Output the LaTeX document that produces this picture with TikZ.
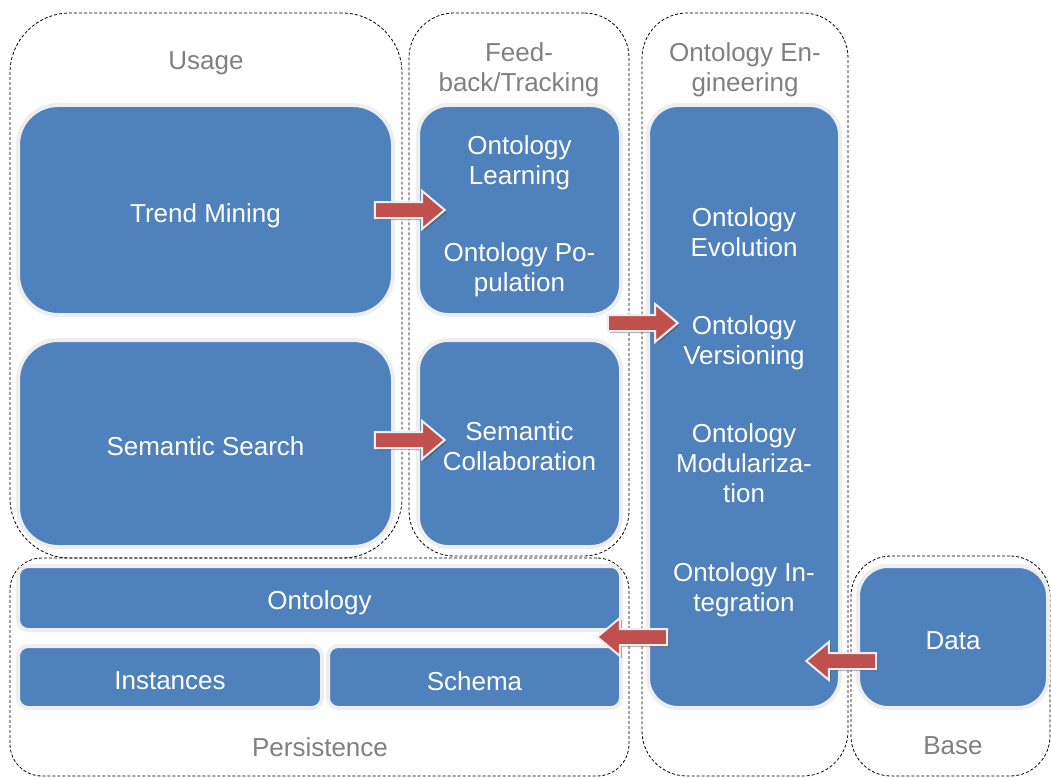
\documentclass[tikz,border=0pt]{standalone}
\usepackage{fontspec}
\setmainfont{Liberation Sans}
\usetikzlibrary{shapes.arrows,shadows}
\definecolor{boxblue}{HTML}{4F81BD}
\definecolor{boxrim}{HTML}{EEEEEE}
\definecolor{arrred}{HTML}{C0504D}
\definecolor{labgray}{HTML}{808080}
\tikzset{
  container/.style={draw=black, line width=0.8pt, dash pattern=on 3pt off 2pt, inner sep=0pt},
  bluebox/.style={fill=boxblue, draw=boxrim, line width=4pt, inner sep=0pt},
  wtext/.style={text=white, align=center, font=\fontsize{26}{30}\selectfont},
  gtext/.style={text=labgray, align=center, font=\fontsize{26}{30}\selectfont},
  blockarrow/.style={single arrow, fill=arrred, draw=boxrim, line width=2pt, inner sep=7pt,
    minimum height=70pt, single arrow head extend=11pt, single arrow tip angle=80,
    drop shadow={shadow xshift=2pt, shadow yshift=-2pt, opacity=0.45, fill=black!70}},
}
\begin{document}
\begin{tikzpicture}[x=1pt,y=-1pt]
\useasboundingbox (0,0) rectangle (1051,778);
% containers
\node[container, rounded corners=60pt, minimum width=392pt, minimum height=545pt] (usage) at (206,285.5) {};
\node[container, rounded corners=45pt, minimum width=220pt, minimum height=543pt] (feedback) at (519,284.5) {};
\node[container, rounded corners=45pt, minimum width=206pt, minimum height=763pt] (engineering) at (745,394.5) {};
\node[container, rounded corners=32pt, minimum width=619pt, minimum height=218pt] (persistence) at (319.5,667) {};
\node[container, rounded corners=40pt, minimum width=199pt, minimum height=220pt] (base) at (950.5,666) {};
% container labels
\node[gtext] (usagelab) at (206,63) {Usage};
\node[gtext] (feedbacklab) at (519,70) {Feed-\\back/Tracking};
\node[gtext] (englab) at (745,70) {Ontology En-\\gineering};
\node[gtext] (perslab) at (320,747) {Persistence};
\node[gtext] (baselab) at (953,746) {Base};
% blue boxes
\node[bluebox, rounded corners=40pt, minimum width=375pt, minimum height=210pt] (trend) at (205.5,210) {};
\node[bluebox, rounded corners=40pt, minimum width=375pt, minimum height=207pt] (search) at (205.5,443.5) {};
\node[bluebox, rounded corners=30pt, minimum width=203pt, minimum height=210pt] (learning) at (519.5,210) {};
\node[bluebox, rounded corners=30pt, minimum width=203pt, minimum height=207pt] (collab) at (519.5,443.5) {};
\node[bluebox, rounded corners=30pt, minimum width=192pt, minimum height=603pt] (engbox) at (744,406.5) {};
\node[bluebox, rounded corners=10pt, minimum width=603pt, minimum height=64pt] (ontology) at (319.5,598) {};
\node[bluebox, rounded corners=10pt, minimum width=304pt, minimum height=62pt] (instances) at (170,677) {};
\node[bluebox, rounded corners=10pt, minimum width=293pt, minimum height=62pt] (schema) at (474.5,677) {};
\node[bluebox, rounded corners=30pt, minimum width=190pt, minimum height=142pt] (data) at (953,637) {};
% box texts
\node[wtext] (trendtext) at (205.5,216) {Trend Mining};
\node[wtext] (searchtext) at (205.5,446.5) {Semantic Search};
\node[wtext] (learntext) at (519.5,163) {Ontology\\Learning};
\node[wtext] (poptext) at (519.5,270) {Ontology Po-\\pulation};
\node[wtext] (collabtext) at (519.5,446.5) {Semantic\\Collaboration};
\node[wtext] (evol) at (744,232) {Ontology\\Evolution};
\node[wtext] (vers) at (744,343) {Ontology\\Versioning};
\node[wtext] (modul) at (744,463) {Ontology\\Modulariza-\\tion};
\node[wtext] (integ) at (744,590) {Ontology In-\\tegration};
\node[wtext] (ontotext) at (319.5,603) {Ontology};
\node[wtext] (insttext) at (170,681) {Instances};
\node[wtext] (schematext) at (474.5,681) {Schema};
\node[wtext] (datatext) at (953,641) {Data};
% block arrows
\node[blockarrow] (arr1) at (405,210) {};
\node[blockarrow] (arr2) at (405,440) {};
\node[blockarrow] (arr3) at (638,323) {};
\node[blockarrow, shape border rotate=180] (arr4) at (637,637) {};
\node[blockarrow, shape border rotate=180] (arr5) at (846,661) {};
\end{tikzpicture}
\end{document}
